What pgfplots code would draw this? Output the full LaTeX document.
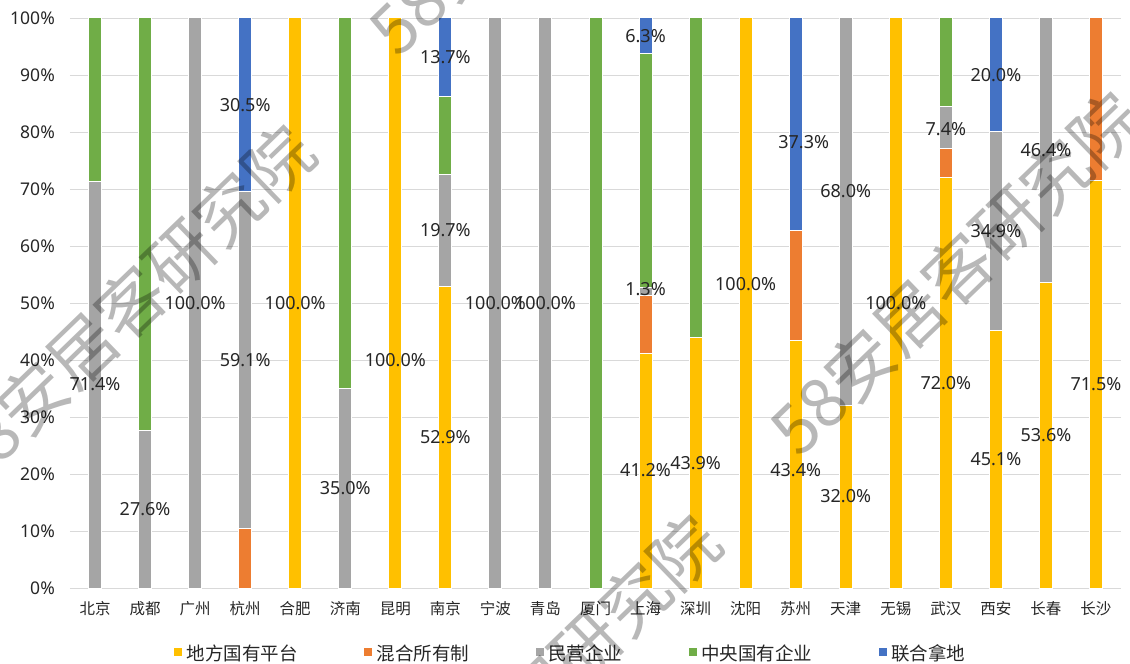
\documentclass[border=0pt]{standalone}
\usepackage{pgfplots}
\usepackage{pgfplotstable}
\pgfplotsset{compat=1.18}
\usepackage{fontspec}
\setmainfont{Noto Sans}
\newfontfamily\cjk{Noto Sans CJK SC}
\usetikzlibrary{calc}
\definecolor{cY}{HTML}{FFC000}
\definecolor{cO}{HTML}{ED7D31}
\definecolor{cG}{HTML}{A5A5A5}
\definecolor{cGr}{HTML}{70AD47}
\definecolor{cB}{HTML}{4472C4}
\definecolor{gridc}{HTML}{D9D9D9}

% label positions (x index, y centre in %, value)
\pgfplotstableread{
x y v
0 35.7 71.4
1 13.8 27.6
2 50 100.0
3 40.0 59.1
3 84.75 30.5
4 50 100.0
5 17.5 35.0
6 40 100.0
7 26.45 52.9
7 62.75 19.7
7 93.15 13.7
8 50 100.0
9 50 100.0
11 20.6 41.2
11 52.4 1.3
11 96.85 6.3
12 21.9 43.9
13 53.4 100.0
14 20.6 43.4
14.16 78.3 37.3
15 16.1 32.0
15 69.6 68.0
16 50 100.0
17 36 72.0
17 80.5 7.4
18 22.55 45.1
18 62.55 34.9
18 90 20.0
19 26.8 53.6
19 76.8 46.4
20 35.75 71.5
}\labeltab

\begin{document}
\begin{tikzpicture}
\begin{axis}[name=main,
  scale only axis, width=1051pt, height=570pt,
  ybar stacked, bar width=13pt,
  xmin=-0.5, xmax=20.5, ymin=0, ymax=100,
  xtick={0,1,...,20},
  xticklabels={北京,成都,广州,杭州,合肥,济南,昆明,南京,宁波,青岛,厦门,上海,深圳,沈阳,苏州,天津,无锡,武汉,西安,长春,长沙},
  x tick label style={font=\cjk\fontsize{15.5}{17}\selectfont, anchor=center, inner sep=0pt, yshift=-21pt, text=black!85},
  ytick={0,10,...,100},
  yticklabel={\pgfmathprintnumber{\tick}\%},
  /pgf/number format/assume math mode=true,
  y tick label style={font=\fontsize{17.5}{19}\selectfont, anchor=east, inner sep=0pt, xshift=-15pt, text=black!85},
  ymajorgrids, grid style={color=gridc, line width=0.8pt},
  axis x line*=bottom, axis y line*=left,
  x axis line style={color=gridc, line width=0.8pt},
  y axis line style={draw=none},
  major tick length=0pt, tick style={draw=none},
  legend columns=5,
  legend style={at={(axis description cs:0.4767,-0.115)}, anchor=center, draw=none, fill=none,
    font=\cjk\fontsize{18.5}{20}\selectfont, text=black!85,
    /tikz/every even column/.append style={column sep=62pt},
    nodes={inner sep=0pt, inner xsep=3.5pt}},
  legend image code/.code={\fill[#1] (-4pt,-2.5pt) rectangle (5pt,6.5pt);},
]
\addplot[fill=cY, draw=white, line width=1pt] coordinates {(0,0) (1,0) (2,0) (3,0) (4,100) (5,0) (6,100) (7,52.9) (8,0) (9,0) (10,0) (11,41.2) (12,43.9) (13,100) (14,43.4) (15,32.0) (16,100) (17,72.0) (18,45.1) (19,53.6) (20,71.5)};
\addplot[fill=cO, draw=white, line width=1pt] coordinates {(0,0) (1,0) (2,0) (3,10.4) (4,0) (5,0) (6,0) (7,0) (8,0) (9,0) (10,0) (11,10.2) (12,0) (13,0) (14,19.3) (15,0) (16,0) (17,5.1) (18,0) (19,0) (20,28.5)};
\addplot[fill=cG, draw=white, line width=1pt] coordinates {(0,71.4) (1,27.6) (2,100) (3,59.1) (4,0) (5,35.0) (6,0) (7,19.7) (8,100) (9,100) (10,0) (11,1.3) (12,0) (13,0) (14,0) (15,68.0) (16,0) (17,7.4) (18,34.9) (19,46.4) (20,0)};
\addplot[fill=cGr, draw=white, line width=1pt] coordinates {(0,28.6) (1,72.4) (2,0) (3,0) (4,0) (5,65.0) (6,0) (7,13.7) (8,0) (9,0) (10,100) (11,41.0) (12,56.1) (13,0) (14,0) (15,0) (16,0) (17,15.5) (18,0) (19,0) (20,0)};
\addplot[fill=cB, draw=white, line width=1pt] coordinates {(0,0) (1,0) (2,0) (3,30.5) (4,0) (5,0) (6,0) (7,13.7) (8,0) (9,0) (10,0) (11,6.3) (12,0) (13,0) (14,37.3) (15,0) (16,0) (17,0) (18,20.0) (19,0) (20,0)};
\legend{地方国有平台,混合所有制,民营企业,中央国有企业,联合拿地}
\end{axis}
\begin{axis}[scale only axis, width=1051pt, height=570pt,
  at={(main.south west)}, anchor=south west,
  xmin=-0.5, xmax=20.5, ymin=0, ymax=100, hide axis]
\addplot[only marks, mark=none, point meta=explicit,
  nodes near coords={\pgfmathprintnumber[fixed,fixed zerofill,precision=1,assume math mode=true]{\pgfplotspointmeta}\%},
  every node near coord/.append style={anchor=center, inner sep=0pt, font=\fontsize{18}{20}\selectfont, text=black!85}]
  table[x=x, y=y, meta=v] {\labeltab};
\end{axis}
\foreach \px/\py in {58/282, 885/315, 484/715, 464/-108}{
  \node[rotate=44, font=\cjk\fontsize{68}{68}\selectfont, text=black, opacity=0.28] at ($(main.south west)+(\px pt,\py pt)$) {58安居客研究院};
}
\pgfresetboundingbox
\path ($(main.south west)+(-70pt,-76pt)$) rectangle ($(main.south west)+(1060pt,588pt)$);
\end{tikzpicture}
\end{document}
